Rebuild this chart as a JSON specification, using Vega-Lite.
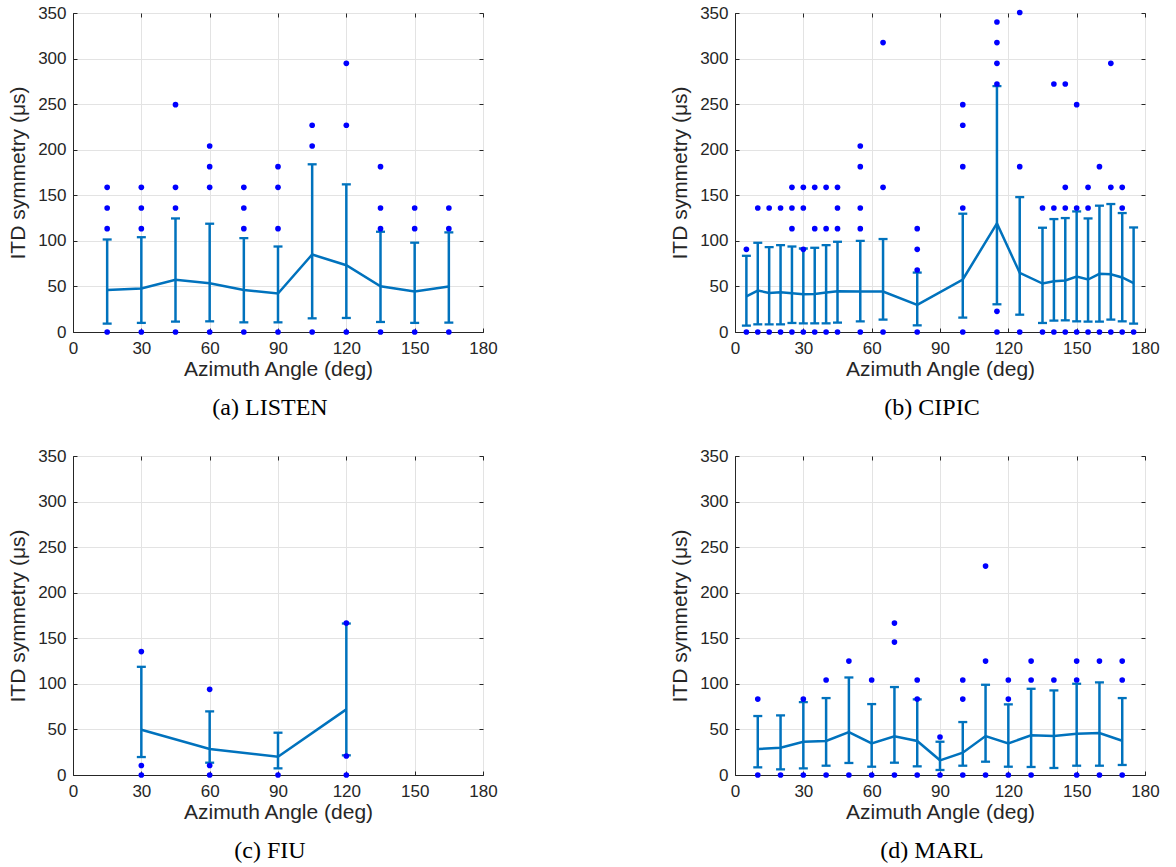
{
  "$schema": "https://vega.github.io/schema/vega-lite/v6.json",
  "padding": {"left": 7, "top": 3, "right": 5, "bottom": 5},
  "background": "white",
  "datasets": {
    "stats": [
      {"panel": "a", "az": 15, "mean": 46.2, "lo": 9.2, "hi": 101.5},
      {"panel": "a", "az": 30, "mean": 47.7, "lo": 10, "hi": 104},
      {"panel": "a", "az": 45, "mean": 57.2, "lo": 11.4, "hi": 124.6},
      {"panel": "a", "az": 60, "mean": 53.5, "lo": 11.7, "hi": 118.8},
      {"panel": "a", "az": 75, "mean": 46.2, "lo": 10.6, "hi": 103},
      {"panel": "a", "az": 90, "mean": 42.2, "lo": 10.6, "hi": 93.8},
      {"panel": "a", "az": 105, "mean": 85, "lo": 15, "hi": 184},
      {"panel": "a", "az": 120, "mean": 73.3, "lo": 15.4, "hi": 162},
      {"panel": "a", "az": 135, "mean": 50.2, "lo": 11, "hi": 110},
      {"panel": "a", "az": 150, "mean": 44.5, "lo": 10, "hi": 98},
      {"panel": "a", "az": 165, "mean": 50, "lo": 10.3, "hi": 109.3},
      {"panel": "b", "az": 5, "mean": 39.2, "lo": 7, "hi": 83.6},
      {"panel": "b", "az": 10, "mean": 45.5, "lo": 8.4, "hi": 97.9},
      {"panel": "b", "az": 15, "mean": 42.9, "lo": 8.4, "hi": 93.1},
      {"panel": "b", "az": 20, "mean": 43.6, "lo": 8.4, "hi": 95.3},
      {"panel": "b", "az": 25, "mean": 42.5, "lo": 9.9, "hi": 93.8},
      {"panel": "b", "az": 30, "mean": 41.4, "lo": 9.5, "hi": 91.6},
      {"panel": "b", "az": 35, "mean": 41.8, "lo": 9.5, "hi": 92.4},
      {"panel": "b", "az": 40, "mean": 43.3, "lo": 9.5, "hi": 95.3},
      {"panel": "b", "az": 45, "mean": 44.7, "lo": 10.3, "hi": 99},
      {"panel": "b", "az": 55, "mean": 44.4, "lo": 11.7, "hi": 100},
      {"panel": "b", "az": 65, "mean": 44.4, "lo": 13.6, "hi": 102},
      {"panel": "b", "az": 80, "mean": 29.7, "lo": 7.3, "hi": 65.2},
      {"panel": "b", "az": 100, "mean": 57.6, "lo": 15.8, "hi": 129.8},
      {"panel": "b", "az": 115, "mean": 119.1, "lo": 30.4, "hi": 269.8},
      {"panel": "b", "az": 125, "mean": 64.9, "lo": 19, "hi": 148},
      {"panel": "b", "az": 135, "mean": 53.2, "lo": 9.9, "hi": 114.4},
      {"panel": "b", "az": 140, "mean": 55.7, "lo": 12.5, "hi": 123.9},
      {"panel": "b", "az": 145, "mean": 56.5, "lo": 12.8, "hi": 125},
      {"panel": "b", "az": 150, "mean": 60.9, "lo": 11.7, "hi": 132.3},
      {"panel": "b", "az": 155, "mean": 57.6, "lo": 11.4, "hi": 124.6},
      {"panel": "b", "az": 160, "mean": 63.8, "lo": 11.4, "hi": 138.6},
      {"panel": "b", "az": 165, "mean": 63.4, "lo": 13.6, "hi": 140.4},
      {"panel": "b", "az": 170, "mean": 59.8, "lo": 11.7, "hi": 130.5},
      {"panel": "b", "az": 175, "mean": 53.5, "lo": 9.2, "hi": 114.7},
      {"panel": "c", "az": 30, "mean": 49.7, "lo": 19.7, "hi": 118.7},
      {"panel": "c", "az": 60, "mean": 28.5, "lo": 13.5, "hi": 69.8},
      {"panel": "c", "az": 90, "mean": 20.1, "lo": 7.3, "hi": 46.4},
      {"panel": "c", "az": 120, "mean": 72, "lo": 21.6, "hi": 166.2},
      {"panel": "d", "az": 10, "mean": 28.5, "lo": 8.4, "hi": 64.7},
      {"panel": "d", "az": 20, "mean": 30, "lo": 6.2, "hi": 65.4},
      {"panel": "d", "az": 30, "mean": 36.5, "lo": 7.3, "hi": 80},
      {"panel": "d", "az": 40, "mean": 37.3, "lo": 10.2, "hi": 84.4},
      {"panel": "d", "az": 50, "mean": 47.1, "lo": 13.2, "hi": 107},
      {"panel": "d", "az": 60, "mean": 34.7, "lo": 9.1, "hi": 77.8},
      {"panel": "d", "az": 70, "mean": 42.4, "lo": 13.5, "hi": 96.5},
      {"panel": "d", "az": 80, "mean": 37.3, "lo": 9.5, "hi": 83},
      {"panel": "d", "az": 90, "mean": 16.1, "lo": 5.5, "hi": 36.5},
      {"panel": "d", "az": 100, "mean": 24.5, "lo": 10.2, "hi": 58.1},
      {"panel": "d", "az": 110, "mean": 42.7, "lo": 14.6, "hi": 99},
      {"panel": "d", "az": 120, "mean": 34.7, "lo": 9.1, "hi": 77.5},
      {"panel": "d", "az": 130, "mean": 43.5, "lo": 8.8, "hi": 94.6},
      {"panel": "d", "az": 140, "mean": 42.7, "lo": 7.7, "hi": 92.8},
      {"panel": "d", "az": 150, "mean": 45.3, "lo": 10.2, "hi": 100.1},
      {"panel": "d", "az": 160, "mean": 46, "lo": 10.2, "hi": 101.6},
      {"panel": "d", "az": 170, "mean": 37.6, "lo": 11, "hi": 84.4}
    ],
    "dots": [
      {"panel": "a", "az": 15, "v": 0}, {"panel": "a", "az": 15, "v": 113.4}, {"panel": "a", "az": 15, "v": 136.1}, {"panel": "a", "az": 15, "v": 158.7},
      {"panel": "a", "az": 30, "v": 0}, {"panel": "a", "az": 30, "v": 113.4}, {"panel": "a", "az": 30, "v": 136.1}, {"panel": "a", "az": 30, "v": 158.7},
      {"panel": "a", "az": 45, "v": 0}, {"panel": "a", "az": 45, "v": 136.1}, {"panel": "a", "az": 45, "v": 158.7}, {"panel": "a", "az": 45, "v": 249.4},
      {"panel": "a", "az": 60, "v": 0}, {"panel": "a", "az": 60, "v": 158.7}, {"panel": "a", "az": 60, "v": 181.4}, {"panel": "a", "az": 60, "v": 204.1},
      {"panel": "a", "az": 75, "v": 0}, {"panel": "a", "az": 75, "v": 113.4}, {"panel": "a", "az": 75, "v": 136.1}, {"panel": "a", "az": 75, "v": 158.7},
      {"panel": "a", "az": 90, "v": 0}, {"panel": "a", "az": 90, "v": 113.4}, {"panel": "a", "az": 90, "v": 158.7}, {"panel": "a", "az": 90, "v": 181.4},
      {"panel": "a", "az": 105, "v": 0}, {"panel": "a", "az": 105, "v": 204.1}, {"panel": "a", "az": 105, "v": 226.8},
      {"panel": "a", "az": 120, "v": 0}, {"panel": "a", "az": 120, "v": 226.8}, {"panel": "a", "az": 120, "v": 294.8},
      {"panel": "a", "az": 135, "v": 0}, {"panel": "a", "az": 135, "v": 113.4}, {"panel": "a", "az": 135, "v": 136.1}, {"panel": "a", "az": 135, "v": 181.4},
      {"panel": "a", "az": 150, "v": 0}, {"panel": "a", "az": 150, "v": 113.4}, {"panel": "a", "az": 150, "v": 136.1},
      {"panel": "a", "az": 165, "v": 0}, {"panel": "a", "az": 165, "v": 113.4}, {"panel": "a", "az": 165, "v": 136.1},
      {"panel": "b", "az": 5, "v": 0}, {"panel": "b", "az": 5, "v": 90.7},
      {"panel": "b", "az": 10, "v": 0}, {"panel": "b", "az": 10, "v": 136.1},
      {"panel": "b", "az": 15, "v": 0}, {"panel": "b", "az": 15, "v": 136.1},
      {"panel": "b", "az": 20, "v": 0}, {"panel": "b", "az": 20, "v": 136.1},
      {"panel": "b", "az": 25, "v": 0}, {"panel": "b", "az": 25, "v": 113.4}, {"panel": "b", "az": 25, "v": 136.1}, {"panel": "b", "az": 25, "v": 158.7},
      {"panel": "b", "az": 30, "v": 0}, {"panel": "b", "az": 30, "v": 90.7}, {"panel": "b", "az": 30, "v": 136.1}, {"panel": "b", "az": 30, "v": 158.7},
      {"panel": "b", "az": 35, "v": 0}, {"panel": "b", "az": 35, "v": 113.4}, {"panel": "b", "az": 35, "v": 158.7},
      {"panel": "b", "az": 40, "v": 0}, {"panel": "b", "az": 40, "v": 113.4}, {"panel": "b", "az": 40, "v": 158.7},
      {"panel": "b", "az": 45, "v": 0}, {"panel": "b", "az": 45, "v": 113.4}, {"panel": "b", "az": 45, "v": 136.1}, {"panel": "b", "az": 45, "v": 158.7},
      {"panel": "b", "az": 55, "v": 0}, {"panel": "b", "az": 55, "v": 113.4}, {"panel": "b", "az": 55, "v": 136.1}, {"panel": "b", "az": 55, "v": 181.4}, {"panel": "b", "az": 55, "v": 204.1},
      {"panel": "b", "az": 65, "v": 0}, {"panel": "b", "az": 65, "v": 158.7}, {"panel": "b", "az": 65, "v": 317.5},
      {"panel": "b", "az": 80, "v": 0}, {"panel": "b", "az": 80, "v": 68}, {"panel": "b", "az": 80, "v": 90.7}, {"panel": "b", "az": 80, "v": 113.4},
      {"panel": "b", "az": 100, "v": 0}, {"panel": "b", "az": 100, "v": 136.1}, {"panel": "b", "az": 100, "v": 181.4}, {"panel": "b", "az": 100, "v": 226.8}, {"panel": "b", "az": 100, "v": 249.4},
      {"panel": "b", "az": 115, "v": 0}, {"panel": "b", "az": 115, "v": 22.7}, {"panel": "b", "az": 115, "v": 272.1}, {"panel": "b", "az": 115, "v": 294.8}, {"panel": "b", "az": 115, "v": 317.5}, {"panel": "b", "az": 115, "v": 340.1},
      {"panel": "b", "az": 125, "v": 0}, {"panel": "b", "az": 125, "v": 181.4}, {"panel": "b", "az": 125, "v": 350.5},
      {"panel": "b", "az": 135, "v": 0}, {"panel": "b", "az": 135, "v": 136.1},
      {"panel": "b", "az": 140, "v": 0}, {"panel": "b", "az": 140, "v": 136.1}, {"panel": "b", "az": 140, "v": 272.1},
      {"panel": "b", "az": 145, "v": 0}, {"panel": "b", "az": 145, "v": 136.1}, {"panel": "b", "az": 145, "v": 158.7}, {"panel": "b", "az": 145, "v": 272.1},
      {"panel": "b", "az": 150, "v": 0}, {"panel": "b", "az": 150, "v": 136.1}, {"panel": "b", "az": 150, "v": 249.4},
      {"panel": "b", "az": 155, "v": 0}, {"panel": "b", "az": 155, "v": 136.1}, {"panel": "b", "az": 155, "v": 158.7},
      {"panel": "b", "az": 160, "v": 0}, {"panel": "b", "az": 160, "v": 181.4},
      {"panel": "b", "az": 165, "v": 0}, {"panel": "b", "az": 165, "v": 158.7}, {"panel": "b", "az": 165, "v": 294.8},
      {"panel": "b", "az": 170, "v": 0}, {"panel": "b", "az": 170, "v": 136.1}, {"panel": "b", "az": 170, "v": 158.7},
      {"panel": "b", "az": 175, "v": 0},
      {"panel": "c", "az": 30, "v": 0}, {"panel": "c", "az": 30, "v": 10.4}, {"panel": "c", "az": 30, "v": 135.4},
      {"panel": "c", "az": 60, "v": 0}, {"panel": "c", "az": 60, "v": 10.4}, {"panel": "c", "az": 60, "v": 94},
      {"panel": "c", "az": 90, "v": 0},
      {"panel": "c", "az": 120, "v": 0}, {"panel": "c", "az": 120, "v": 20.8}, {"panel": "c", "az": 120, "v": 166.7},
      {"panel": "d", "az": 10, "v": 0}, {"panel": "d", "az": 10, "v": 83.3},
      {"panel": "d", "az": 20, "v": 0},
      {"panel": "d", "az": 30, "v": 0}, {"panel": "d", "az": 30, "v": 83.3},
      {"panel": "d", "az": 40, "v": 0}, {"panel": "d", "az": 40, "v": 104.2},
      {"panel": "d", "az": 50, "v": 0}, {"panel": "d", "az": 50, "v": 125},
      {"panel": "d", "az": 60, "v": 0}, {"panel": "d", "az": 60, "v": 104.2},
      {"panel": "d", "az": 70, "v": 0}, {"panel": "d", "az": 70, "v": 145.8}, {"panel": "d", "az": 70, "v": 166.7},
      {"panel": "d", "az": 80, "v": 0}, {"panel": "d", "az": 80, "v": 83.3}, {"panel": "d", "az": 80, "v": 104.2},
      {"panel": "d", "az": 90, "v": 0}, {"panel": "d", "az": 90, "v": 41.7},
      {"panel": "d", "az": 100, "v": 0}, {"panel": "d", "az": 100, "v": 83.3}, {"panel": "d", "az": 100, "v": 104.2},
      {"panel": "d", "az": 110, "v": 0}, {"panel": "d", "az": 110, "v": 125}, {"panel": "d", "az": 110, "v": 229.2},
      {"panel": "d", "az": 120, "v": 0}, {"panel": "d", "az": 120, "v": 83.3}, {"panel": "d", "az": 120, "v": 104.2},
      {"panel": "d", "az": 130, "v": 0}, {"panel": "d", "az": 130, "v": 104.2}, {"panel": "d", "az": 130, "v": 125},
      {"panel": "d", "az": 140, "v": 104.2},
      {"panel": "d", "az": 150, "v": 0}, {"panel": "d", "az": 150, "v": 104.2}, {"panel": "d", "az": 150, "v": 125},
      {"panel": "d", "az": 160, "v": 0}, {"panel": "d", "az": 160, "v": 125},
      {"panel": "d", "az": 170, "v": 0}, {"panel": "d", "az": 170, "v": 104.2}, {"panel": "d", "az": 170, "v": 125}
    ]
  },
  "columns": 2,
  "spacing": {"row": 124, "column": 252},
  "bounds": "flush",
  "concat": [
    {
      "width": 410, "height": 319,
      "title": {"text": "(a) LISTEN", "orient": "bottom", "anchor": "middle", "frame": "group", "dx": -8},
      "resolve": {"axis": {"x": "independent", "y": "independent"}},
      "layer": [
        {"data": {"name": "stats"}, "transform": [{"filter": "datum.panel == 'a'"}],
         "mark": {"type": "rule", "color": "#0072BD", "strokeWidth": 2.5},
         "encoding": {
           "x": {"field": "az", "type": "quantitative", "scale": {"domain": [0, 180], "nice": false}, "axis": {"title": "Azimuth Angle (deg)", "values": [0, 30, 60, 90, 120, 150, 180]}},
           "y": {"field": "lo", "type": "quantitative", "scale": {"domain": [0, 350], "nice": false}, "axis": {"title": "ITD symmetry (μs)", "values": [0, 50, 100, 150, 200, 250, 300, 350]}},
           "y2": {"field": "hi"}}},
        {"data": {"name": "stats"}, "transform": [{"filter": "datum.panel == 'a'"}],
         "mark": {"type": "tick", "orient": "horizontal", "size": 9, "thickness": 2.3, "color": "#0072BD", "opacity": 1},
         "encoding": {"x": {"field": "az", "type": "quantitative", "axis": null}, "y": {"field": "lo", "type": "quantitative", "axis": null}}},
        {"data": {"name": "stats"}, "transform": [{"filter": "datum.panel == 'a'"}],
         "mark": {"type": "tick", "orient": "horizontal", "size": 9, "thickness": 2.3, "color": "#0072BD", "opacity": 1},
         "encoding": {"x": {"field": "az", "type": "quantitative", "axis": null}, "y": {"field": "hi", "type": "quantitative", "axis": null}}},
        {"data": {"name": "stats"}, "transform": [{"filter": "datum.panel == 'a'"}],
         "mark": {"type": "line", "color": "#0072BD", "strokeWidth": 2.5},
         "encoding": {"x": {"field": "az", "type": "quantitative", "axis": null}, "y": {"field": "mean", "type": "quantitative", "axis": null}}},
        {"data": {"name": "dots"}, "transform": [{"filter": "datum.panel == 'a'"}],
         "mark": {"type": "point", "filled": true, "color": "#0000FF", "opacity": 1, "size": 32},
         "encoding": {
           "x": {"field": "az", "type": "quantitative", "axis": {"orient": "top", "labels": false, "grid": false, "domain": false, "title": null, "values": [0, 30, 60, 90, 120, 150, 180]}},
           "y": {"field": "v", "type": "quantitative", "axis": {"orient": "right", "labels": false, "grid": false, "domain": false, "title": null, "values": [0, 50, 100, 150, 200, 250, 300, 350]}}}}
      ]
    },
    {
      "width": 410, "height": 319,
      "title": {"text": "(b) CIPIC", "orient": "bottom", "anchor": "middle", "frame": "group", "dx": -8},
      "resolve": {"axis": {"x": "independent", "y": "independent"}},
      "layer": [
        {"data": {"name": "stats"}, "transform": [{"filter": "datum.panel == 'b'"}],
         "mark": {"type": "rule", "color": "#0072BD", "strokeWidth": 2.5},
         "encoding": {
           "x": {"field": "az", "type": "quantitative", "scale": {"domain": [0, 180], "nice": false}, "axis": {"title": "Azimuth Angle (deg)", "values": [0, 30, 60, 90, 120, 150, 180]}},
           "y": {"field": "lo", "type": "quantitative", "scale": {"domain": [0, 350], "nice": false}, "axis": {"title": "ITD symmetry (μs)", "values": [0, 50, 100, 150, 200, 250, 300, 350]}},
           "y2": {"field": "hi"}}},
        {"data": {"name": "stats"}, "transform": [{"filter": "datum.panel == 'b'"}],
         "mark": {"type": "tick", "orient": "horizontal", "size": 9, "thickness": 2.3, "color": "#0072BD", "opacity": 1},
         "encoding": {"x": {"field": "az", "type": "quantitative", "axis": null}, "y": {"field": "lo", "type": "quantitative", "axis": null}}},
        {"data": {"name": "stats"}, "transform": [{"filter": "datum.panel == 'b'"}],
         "mark": {"type": "tick", "orient": "horizontal", "size": 9, "thickness": 2.3, "color": "#0072BD", "opacity": 1},
         "encoding": {"x": {"field": "az", "type": "quantitative", "axis": null}, "y": {"field": "hi", "type": "quantitative", "axis": null}}},
        {"data": {"name": "stats"}, "transform": [{"filter": "datum.panel == 'b'"}],
         "mark": {"type": "line", "color": "#0072BD", "strokeWidth": 2.5},
         "encoding": {"x": {"field": "az", "type": "quantitative", "axis": null}, "y": {"field": "mean", "type": "quantitative", "axis": null}}},
        {"data": {"name": "dots"}, "transform": [{"filter": "datum.panel == 'b'"}],
         "mark": {"type": "point", "filled": true, "color": "#0000FF", "opacity": 1, "size": 32},
         "encoding": {
           "x": {"field": "az", "type": "quantitative", "axis": {"orient": "top", "labels": false, "grid": false, "domain": false, "title": null, "values": [0, 30, 60, 90, 120, 150, 180]}},
           "y": {"field": "v", "type": "quantitative", "axis": {"orient": "right", "labels": false, "grid": false, "domain": false, "title": null, "values": [0, 50, 100, 150, 200, 250, 300, 350]}}}}
      ]
    },
    {
      "width": 410, "height": 319,
      "title": {"text": "(c) FIU", "orient": "bottom", "anchor": "middle", "frame": "group", "dx": -8},
      "resolve": {"axis": {"x": "independent", "y": "independent"}},
      "layer": [
        {"data": {"name": "stats"}, "transform": [{"filter": "datum.panel == 'c'"}],
         "mark": {"type": "rule", "color": "#0072BD", "strokeWidth": 2.5},
         "encoding": {
           "x": {"field": "az", "type": "quantitative", "scale": {"domain": [0, 180], "nice": false}, "axis": {"title": "Azimuth Angle (deg)", "values": [0, 30, 60, 90, 120, 150, 180]}},
           "y": {"field": "lo", "type": "quantitative", "scale": {"domain": [0, 350], "nice": false}, "axis": {"title": "ITD symmetry (μs)", "values": [0, 50, 100, 150, 200, 250, 300, 350]}},
           "y2": {"field": "hi"}}},
        {"data": {"name": "stats"}, "transform": [{"filter": "datum.panel == 'c'"}],
         "mark": {"type": "tick", "orient": "horizontal", "size": 9, "thickness": 2.3, "color": "#0072BD", "opacity": 1},
         "encoding": {"x": {"field": "az", "type": "quantitative", "axis": null}, "y": {"field": "lo", "type": "quantitative", "axis": null}}},
        {"data": {"name": "stats"}, "transform": [{"filter": "datum.panel == 'c'"}],
         "mark": {"type": "tick", "orient": "horizontal", "size": 9, "thickness": 2.3, "color": "#0072BD", "opacity": 1},
         "encoding": {"x": {"field": "az", "type": "quantitative", "axis": null}, "y": {"field": "hi", "type": "quantitative", "axis": null}}},
        {"data": {"name": "stats"}, "transform": [{"filter": "datum.panel == 'c'"}],
         "mark": {"type": "line", "color": "#0072BD", "strokeWidth": 2.5},
         "encoding": {"x": {"field": "az", "type": "quantitative", "axis": null}, "y": {"field": "mean", "type": "quantitative", "axis": null}}},
        {"data": {"name": "dots"}, "transform": [{"filter": "datum.panel == 'c'"}],
         "mark": {"type": "point", "filled": true, "color": "#0000FF", "opacity": 1, "size": 32},
         "encoding": {
           "x": {"field": "az", "type": "quantitative", "axis": {"orient": "top", "labels": false, "grid": false, "domain": false, "title": null, "values": [0, 30, 60, 90, 120, 150, 180]}},
           "y": {"field": "v", "type": "quantitative", "axis": {"orient": "right", "labels": false, "grid": false, "domain": false, "title": null, "values": [0, 50, 100, 150, 200, 250, 300, 350]}}}}
      ]
    },
    {
      "width": 410, "height": 319,
      "title": {"text": "(d) MARL", "orient": "bottom", "anchor": "middle", "frame": "group", "dx": -8},
      "resolve": {"axis": {"x": "independent", "y": "independent"}},
      "layer": [
        {"data": {"name": "stats"}, "transform": [{"filter": "datum.panel == 'd'"}],
         "mark": {"type": "rule", "color": "#0072BD", "strokeWidth": 2.5},
         "encoding": {
           "x": {"field": "az", "type": "quantitative", "scale": {"domain": [0, 180], "nice": false}, "axis": {"title": "Azimuth Angle (deg)", "values": [0, 30, 60, 90, 120, 150, 180]}},
           "y": {"field": "lo", "type": "quantitative", "scale": {"domain": [0, 350], "nice": false}, "axis": {"title": "ITD symmetry (μs)", "values": [0, 50, 100, 150, 200, 250, 300, 350]}},
           "y2": {"field": "hi"}}},
        {"data": {"name": "stats"}, "transform": [{"filter": "datum.panel == 'd'"}],
         "mark": {"type": "tick", "orient": "horizontal", "size": 9, "thickness": 2.3, "color": "#0072BD", "opacity": 1},
         "encoding": {"x": {"field": "az", "type": "quantitative", "axis": null}, "y": {"field": "lo", "type": "quantitative", "axis": null}}},
        {"data": {"name": "stats"}, "transform": [{"filter": "datum.panel == 'd'"}],
         "mark": {"type": "tick", "orient": "horizontal", "size": 9, "thickness": 2.3, "color": "#0072BD", "opacity": 1},
         "encoding": {"x": {"field": "az", "type": "quantitative", "axis": null}, "y": {"field": "hi", "type": "quantitative", "axis": null}}},
        {"data": {"name": "stats"}, "transform": [{"filter": "datum.panel == 'd'"}],
         "mark": {"type": "line", "color": "#0072BD", "strokeWidth": 2.5},
         "encoding": {"x": {"field": "az", "type": "quantitative", "axis": null}, "y": {"field": "mean", "type": "quantitative", "axis": null}}},
        {"data": {"name": "dots"}, "transform": [{"filter": "datum.panel == 'd'"}],
         "mark": {"type": "point", "filled": true, "color": "#0000FF", "opacity": 1, "size": 32},
         "encoding": {
           "x": {"field": "az", "type": "quantitative", "axis": {"orient": "top", "labels": false, "grid": false, "domain": false, "title": null, "values": [0, 30, 60, 90, 120, 150, 180]}},
           "y": {"field": "v", "type": "quantitative", "axis": {"orient": "right", "labels": false, "grid": false, "domain": false, "title": null, "values": [0, 50, 100, 150, 200, 250, 300, 350]}}}}
      ]
    }
  ],
  "config": {
    "font": "Liberation Sans",
    "view": {"stroke": "#303030", "strokeWidth": 1},
    "axis": {
      "labelFont": "Liberation Sans", "labelFontSize": 17, "labelColor": "#262626",
      "labelFlush": false, "labelOverlap": false,
      "titleFont": "Liberation Sans", "titleFontSize": 21, "titleFontWeight": "normal", "titleColor": "#262626",
      "gridColor": "#e3e3e3", "gridWidth": 1,
      "domainColor": "#262626", "domainWidth": 1,
      "tickColor": "#262626", "tickSize": -4, "tickWidth": 1
    },
    "axisX": {"labelPadding": 12, "titlePadding": 2},
    "axisY": {"labelPadding": 11, "titlePadding": 9},
    "title": {"font": "Liberation Serif", "fontSize": 24, "fontWeight": "normal", "color": "black", "offset": 17}
  }
}
